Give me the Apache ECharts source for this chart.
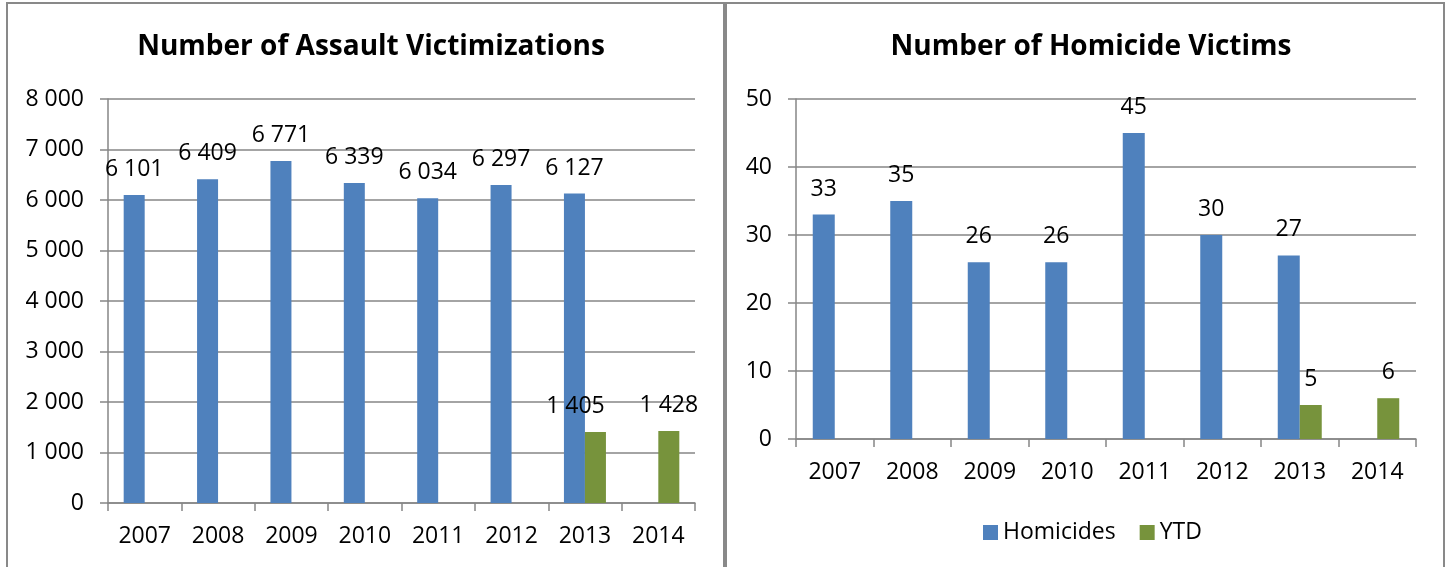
<!DOCTYPE html>
<html>
<head>
<meta charset="utf-8">
<script src="https://cdn.jsdelivr.net/npm/echarts@6/dist/echarts.min.js"></script>
<style>
  html, body { margin: 0; padding: 0; background: #fff; }
  #chart { width: 1448px; height: 567px; }
</style>
</head>
<body>
<div id="chart"></div>
<script>
const years = ['2007', '2008', '2009', '2010', '2011', '2012', '2013', '2014']
const assaultTotal = [6101, 6409, 6771, 6339, 6034, 6297, 6127, null]
const assaultYtd = [null, null, null, null, null, null, 1405, 1428]
const homicides = [33, 35, 26, 26, 45, 30, 27, null]
const homicideYtd = [null, null, null, null, null, null, 5, 6]

const blue = '#4F81BD'
const green = '#77933C'
const gray = '#868686'
const font = 'Open Sans'

const spaced = v => String(v).replace(/\B(?=(\d{3})+(?!\d))/g, ' ')

function xAxis (gridIndex) {
  return {
    type: 'category',
    gridIndex: gridIndex,
    data: years,
    axisLine: { lineStyle: { color: gray, width: 1.5 } },
    axisTick: { show: true, length: 8, lineStyle: { color: gray, width: 1.5 } },
    axisLabel: { color: '#000', fontFamily: font, fontSize: 23, margin: 22 },
    splitLine: { show: false }
  }
}

function yAxis (gridIndex, max, interval, fmt) {
  return {
    type: 'value',
    gridIndex: gridIndex,
    min: 0,
    max: max,
    interval: interval,
    axisLine: { show: true, lineStyle: { color: gray, width: 1.5 } },
    axisTick: { show: true, length: 8, lineStyle: { color: gray, width: 1.5 } },
    axisLabel: { color: '#000', fontFamily: font, fontSize: 23, margin: 24, formatter: fmt },
    splitLine: { show: true, lineStyle: { color: gray, width: 1.5 } }
  }
}

function barLabel (fmt) {
  return {
    show: true,
    position: 'top',
    distance: 14,
    color: '#000',
    fontFamily: font,
    fontSize: 23,
    formatter: p => (p.value == null ? '' : fmt(p.value))
  }
}

const chart = echarts.init(document.getElementById('chart'), null, { renderer: 'canvas' })

chart.setOption({
  animation: false,
  title: [{
    text: 'Number of Assault Victimizations',
    left: 366,
    top: 28,
    textAlign: 'center',
    textStyle: { fontFamily: font, fontSize: 28, fontWeight: 'bold', color: '#000' }
  }, {
    text: 'Number of Homicide Victims',
    left: 1086,
    top: 28,
    textAlign: 'center',
    textStyle: { fontFamily: font, fontSize: 28, fontWeight: 'bold', color: '#000' }
  }],
  graphic: [{
    type: 'rect',
    shape: { x: 7, y: 3, width: 717, height: 620 },
    style: { fill: 'none', stroke: '#898989', lineWidth: 2 }
  }, {
    type: 'rect',
    shape: { x: 726, y: 3, width: 718, height: 620 },
    style: { fill: 'none', stroke: '#898989', lineWidth: 2 }
  }],
  legend: {
    data: ['Homicides', 'YTD'],
    left: 978,
    top: 516,
    icon: 'rect',
    itemWidth: 15,
    itemHeight: 15,
    itemGap: 24,
    textStyle: { fontFamily: font, fontSize: 23, color: '#000' }
  },
  grid: [
    { left: 108, right: 753, top: 99, bottom: 64 },
    { left: 796, right: 32, top: 99, bottom: 128 }
  ],
  xAxis: [xAxis(0), xAxis(1)],
  yAxis: [yAxis(0, 8000, 1000, spaced), yAxis(1, 50, 10)],
  series: [{
    name: 'Assaults',
    type: 'bar',
    xAxisIndex: 0,
    yAxisIndex: 0,
    data: assaultTotal,
    barWidth: 21,
    barGap: 0,
    itemStyle: { color: blue },
    label: barLabel(spaced)
  }, {
    name: 'Assaults YTD',
    type: 'bar',
    xAxisIndex: 0,
    yAxisIndex: 0,
    data: assaultYtd,
    barWidth: 21,
    barGap: 0,
    itemStyle: { color: green },
    label: barLabel(spaced),
    // the 2013 label sits left of its bar, next to the blue one
    labelLayout: p => (p.dataIndex === 6 ? { dx: -20 } : {})
  }, {
    name: 'Homicides',
    type: 'bar',
    xAxisIndex: 1,
    yAxisIndex: 1,
    data: homicides,
    barWidth: 22,
    barGap: 0,
    itemStyle: { color: blue },
    label: barLabel(String)
  }, {
    name: 'YTD',
    type: 'bar',
    xAxisIndex: 1,
    yAxisIndex: 1,
    data: homicideYtd,
    barWidth: 22,
    barGap: 0,
    itemStyle: { color: green },
    label: barLabel(String)
  }]
})
</script>
</body>
</html>
